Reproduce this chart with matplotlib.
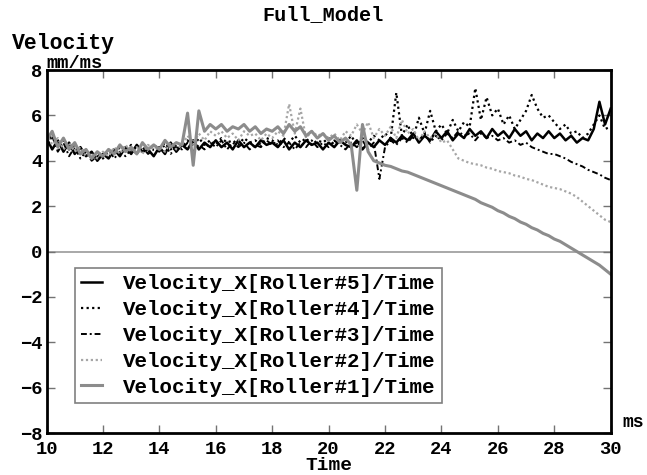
import numpy as np
import matplotlib
matplotlib.use("Agg")
import matplotlib.pyplot as plt

plt.rcParams['font.family'] = ['Liberation Mono', 'DejaVu Sans Mono']
plt.rcParams['font.weight'] = 'bold'

# sample grid of the export (ms), 0.2 ms steps
time = np.linspace(10.0, 30.0, 101)

# Velocity_X per roller (mm/ms)
roller5 = [5.0, 4.5, 4.9, 4.4, 4.8, 4.3, 4.6, 4.2, 4.4, 4.0,
           4.3, 4.1, 4.5, 4.2, 4.6, 4.3, 4.7, 4.4, 4.5, 4.2,
           4.6, 4.3, 4.8, 4.4, 4.7, 4.5, 4.9, 4.5, 4.8, 4.6,
           4.9, 4.6, 4.8, 4.5, 4.9, 4.6, 4.8, 4.6, 4.9, 4.7,
           4.8, 4.6, 4.9, 4.5, 4.8, 4.6, 4.9, 4.7, 4.8, 4.5,
           4.8, 4.6, 4.9, 4.7, 4.6, 4.9, 4.5, 4.8, 4.6, 4.9,
           4.7, 5.0, 4.8, 5.1, 4.9, 5.2, 4.8, 5.1, 4.9, 5.3,
           5.0, 5.3, 4.9, 5.2, 5.0, 5.4, 5.1, 5.3, 5.0, 5.4,
           5.1, 5.3, 5.0, 5.4, 5.1, 5.3, 4.9, 5.2, 5.0, 5.3,
           5.0, 5.2, 4.9, 5.1, 4.8, 5.0, 4.9, 5.4, 6.6, 5.6,
           6.3]

roller4 = [4.8, 5.2, 4.6, 4.9, 4.5, 4.7, 4.3, 4.5, 4.1, 4.3,
           4.1, 4.4, 4.3, 4.6, 4.4, 4.7, 4.5, 4.6, 4.4, 4.7,
           4.5, 4.8, 4.5, 4.7, 4.6, 4.9, 4.6, 5.0, 4.7, 4.9,
           4.7, 5.0, 4.8, 4.9, 4.7, 5.0, 4.8, 4.9, 4.7, 5.0,
           4.9, 4.7, 5.0, 4.8, 5.1, 4.8, 5.0, 4.7, 4.9, 4.8,
           5.0, 4.7, 4.9, 4.8, 5.1, 4.7, 5.0, 4.8, 5.1, 4.9,
           5.2, 5.0, 7.0, 5.1, 5.6, 5.0, 5.9, 5.2, 6.2, 5.3,
           5.6, 5.2, 5.8, 5.3, 5.7, 5.5, 7.2, 5.8, 6.8, 6.0,
           6.3, 5.6, 6.0, 5.4, 5.8, 6.2, 6.9, 6.3, 5.9, 6.0,
           5.7, 5.4, 5.6, 5.2, 5.3, 5.0, 5.2, 5.6, 6.0, 5.4,
           5.5]

roller3 = [4.6, 5.1, 4.4, 4.8, 4.2, 4.6, 4.1, 4.4, 4.0, 4.2,
           4.2, 4.5, 4.1, 4.4, 4.2, 4.5, 4.3, 4.6, 4.3, 4.5,
           4.4, 4.7, 4.3, 4.6, 4.5, 4.8, 4.4, 4.7, 4.5, 4.8,
           4.6, 4.9, 4.5, 4.8, 4.6, 4.8, 4.5, 4.7, 4.6, 4.9,
           4.7, 4.9, 4.6, 4.8, 4.5, 4.8, 4.6, 4.9, 4.6, 4.8,
           4.6, 4.9, 4.7, 4.5, 4.8, 4.6, 4.9, 4.5, 4.8, 3.2,
           4.6, 4.9, 4.7, 5.0, 4.8, 5.1, 4.9, 5.2, 4.8, 5.1,
           4.9, 5.2, 5.0, 5.3, 5.1, 5.2, 4.9, 5.2, 5.0, 5.1,
           4.9, 5.0, 4.8, 4.9, 4.7, 4.8, 4.6, 4.5, 4.4, 4.3,
           4.3, 4.2, 4.1, 3.95, 3.85, 3.75, 3.6, 3.5, 3.4, 3.25,
           3.15]

roller2 = [5.2, 4.7, 5.0, 4.5, 4.8, 4.4, 4.6, 4.2, 4.3, 4.1,
           4.4, 4.2, 4.6, 4.3, 4.7, 4.4, 4.6, 4.3, 4.7, 4.5,
           4.6, 4.4, 4.8, 4.5, 4.7, 5.1, 4.8, 5.2, 4.9, 5.3,
           5.1, 5.3, 5.0, 5.2, 4.9, 5.3, 5.1, 5.2, 4.9, 5.2,
           5.0, 5.3, 5.1, 6.5, 5.2, 6.3, 5.0, 5.3, 5.1, 5.2,
           5.0, 5.2, 4.9, 5.3, 5.1, 5.6, 5.2, 5.7, 5.0, 5.4,
           5.1, 5.5, 5.0, 5.8, 5.2, 5.4, 4.9, 5.3, 5.0, 5.2,
           4.8, 4.9, 4.5, 4.1, 4.0, 3.9, 3.85, 3.8, 3.7, 3.65,
           3.55, 3.5, 3.45, 3.35, 3.3, 3.2, 3.15, 3.05, 2.95, 2.85,
           2.8, 2.75, 2.65, 2.55, 2.4, 2.2, 2.0, 1.8, 1.6, 1.4,
           1.3]

roller1 = [4.9, 5.3, 4.6, 5.0, 4.5, 4.8, 4.3, 4.5, 4.1, 4.4,
           4.2, 4.5, 4.3, 4.7, 4.4, 4.6, 4.3, 4.8, 4.5, 4.7,
           4.5, 4.9, 4.6, 4.8, 4.7, 6.1, 3.8, 6.2, 5.3, 5.6,
           5.4, 5.6, 5.3, 5.5, 5.4, 5.6, 5.3, 5.5, 5.2, 5.4,
           5.3, 5.5, 5.2, 5.6, 5.3, 5.5, 5.1, 5.3, 5.0, 5.2,
           4.9, 5.1, 4.8, 5.0, 4.7, 2.7, 5.6, 4.4, 4.0, 3.9,
           3.8, 3.75, 3.65, 3.55, 3.5, 3.4, 3.3, 3.2, 3.1, 3.0,
           2.9, 2.8, 2.7, 2.6, 2.5, 2.4, 2.3, 2.15, 2.05, 1.95,
           1.8, 1.7, 1.55, 1.45, 1.3, 1.2, 1.05, 0.95, 0.8, 0.7,
           0.55, 0.45, 0.3, 0.15, 0.0, -0.15, -0.3, -0.45, -0.6, -0.8,
           -1.0]

labels = ["Velocity_X[Roller#5]/Time", "Velocity_X[Roller#4]/Time",
          "Velocity_X[Roller#3]/Time", "Velocity_X[Roller#2]/Time",
          "Velocity_X[Roller#1]/Time"]

fig = plt.figure(figsize=(6.47, 4.75), dpi=100)
ax = fig.add_axes([0.0719, 0.0884, 0.8720, 0.7642])

ax.axhline(0, color='0.6', lw=1.2, zorder=1)

ax.plot(time, roller5, color='black', lw=1.8, ls='-', label=labels[0])
ax.plot(time, roller4, color='black', lw=1.6, ls=(0, (1, 1.5)), label=labels[1])
ax.plot(time, roller3, color='black', lw=1.4, ls=(0, (3, 1.5, 1, 1.5)), label=labels[2])
ax.plot(time, roller2, color='0.65', lw=1.6, ls=(0, (1, 1.2)), label=labels[3])
ax.plot(time, roller1, color='0.55', lw=2.2, ls='-', label=labels[4])

ax.set_xlim(10, 30)
ax.set_ylim(-8, 8)
ax.set_xticks(np.arange(10, 31, 2))
ax.set_yticks(np.arange(-8, 9, 2))
ax.tick_params(direction='in', length=6, width=1, color='0.45',
               top=True, right=True, labelsize=13.5)
ax.tick_params(axis='x', pad=6)
ax.tick_params(axis='y', pad=3)
for s in ax.spines.values():
    s.set_linewidth(2)
    s.set_color('black')

fig.text(0.5, 0.97, "Full_Model", ha='center', va='center', fontsize=14.5, fontweight='bold')
fig.text(0.018, 0.909, "Velocity", ha='left', va='center', fontsize=15.5, fontweight='bold')
ax.text(0.0, 0.995, "mm/ms", transform=ax.transAxes, ha='left', va='bottom', fontsize=13.5)
ax.text(1.02, 0.005, "ms", transform=ax.transAxes, ha='left', va='bottom', fontsize=13)
ax.set_xlabel("Time", fontsize=14, fontweight='bold', labelpad=-1)

leg = ax.legend(loc='upper left', bbox_to_anchor=(0.0505, 0.4545), fontsize=15,
                handlelength=1.0, handletextpad=1.0, labelspacing=0.33,
                borderpad=0.3, fancybox=False, framealpha=1, edgecolor='0.5',
                borderaxespad=0)
leg.get_frame().set_linewidth(1.2)

fig.savefig("out.png", dpi=100)
